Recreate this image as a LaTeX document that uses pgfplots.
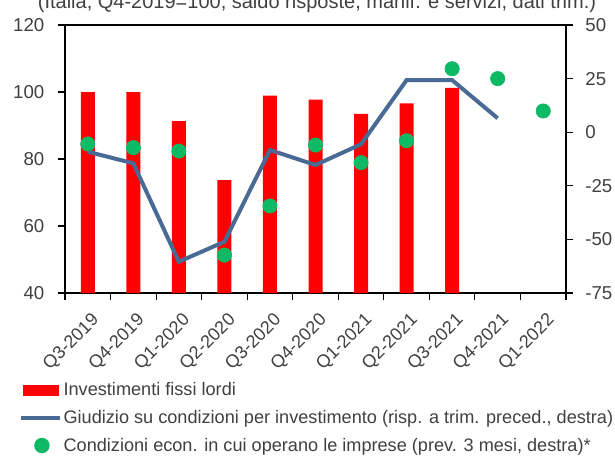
\documentclass[border=0pt]{standalone}
\usepackage{fontspec}
\setmainfont{Liberation Sans}
\usepackage{pgfplots}
\pgfplotsset{compat=1.18}
\definecolor{barred}{RGB}{255,0,0}
\definecolor{lineblue}{RGB}{74,106,150}
\definecolor{dotgreen}{RGB}{14,185,102}
\definecolor{txt}{RGB}{64,64,64}
\begin{document}
\begin{tikzpicture}
\pgfplotsset{
  common/.style={
    at={(0pt,0pt)}, anchor=south west,
    width=375.75pt, height=201pt, scale only axis,
    xmin=-0.5, xmax=10.5,
    tick align=outside,
    major tick length=5pt, minor tick length=5pt,
    tick style={black, line width=0.8pt},
    axis line style={black, line width=1.1pt},
    /pgf/number format/assume math mode=true,
    ticklabel style={font=\fontsize{14}{16}\selectfont, text=txt},
  }
}
\begin{axis}[common,
  ymin=40, ymax=120, ytick={40,60,...,120},
  xtick={0,...,10},
  xticklabels={Q3-2019,Q4-2019,Q1-2020,Q2-2020,Q3-2020,Q4-2020,Q1-2021,Q2-2021,Q3-2021,Q4-2021,Q1-2022},
  minor xtick={-0.5,0.5,...,10.5},
  major x tick style={draw=none},
  xtick pos=bottom, ytick pos=left,
  yticklabel style={xshift=-7pt},
  xticklabel style={rotate=45, anchor=north east, font=\fontsize{13.5}{15}\selectfont, yshift=-4.5pt, xshift=-1.5pt},
]
\addplot[ybar, bar width=10.5pt, fill=barred, draw=none] coordinates {
(0,100) (1,100) (2,91.3) (3,73.7) (4,98.9) (5,97.7) (6,93.5) (7,96.6) (8,101.2)};
\end{axis}
\begin{axis}[common,
  ymin=-75, ymax=50, ytick={-75,-50,...,50},
  axis y line*=right, axis x line=none,
  yticklabel style={xshift=6pt},
  legend style={at={(0,0)}, anchor=north west, xshift=-34.5pt, yshift=-66pt,
    draw=none, fill=none, inner sep=0pt, row sep=7.4pt,
    font=\fontsize{13.6}{16}\selectfont, text=txt,
    nodes={inner sep=1pt}},
  legend cell align=left,
]
\addlegendimage{legend image code/.code={\path[draw=none] (0pt,0pt) -- (29.25pt,0pt);\fill[barred,draw=none] (1.5pt,-4.1pt) rectangle (28.5pt,4.1pt);}}
\addlegendentry{Investimenti fissi lordi}
\addplot[lineblue, line width=3pt, legend image code/.code={\path[draw=none] (0pt,0pt) -- (29.25pt,0pt);\draw[lineblue,line width=3pt] (0pt,0pt) -- (29.25pt,0pt);}] coordinates {
(0,-9.1) (1,-14.5) (2,-60.4) (3,-51.1) (4,-8.3) (5,-15.3) (6,-5.6) (7,24.3) (8,24.3) (9,6.5)};
\addlegendentry{Giudizio su condizioni per investimento (risp. a trim. preced., destra)}
\addplot[only marks, mark=*, mark size=5.4pt, dotgreen, mark options={draw=none, fill=dotgreen}, legend image code/.code={\path[draw=none] (0pt,0pt) -- (29.25pt,0pt);\fill[dotgreen,draw=none] (15.5pt,0pt) circle (5.8pt);}] coordinates {
(0,-5.5) (1,-7.2) (2,-8.8) (3,-57.3) (4,-34.4) (5,-6) (6,-14.2) (7,-4) (8,29.6) (9,25) (10,9.9)};
\addlegendentry{Condizioni econ. in cui operano le imprese (prev. 3 mesi, destra)*}
\end{axis}
\node[anchor=base, font=\fontsize{15}{17}\selectfont, text=txt] at (189pt,213.75pt) {(Italia, Q4-2019=100, saldo risposte, manif. e servizi, dati trim.)};
\pgfresetboundingbox
\useasboundingbox (-48.75pt,-121.5pt) rectangle (412.5pt,219.75pt);
\end{tikzpicture}
\end{document}
